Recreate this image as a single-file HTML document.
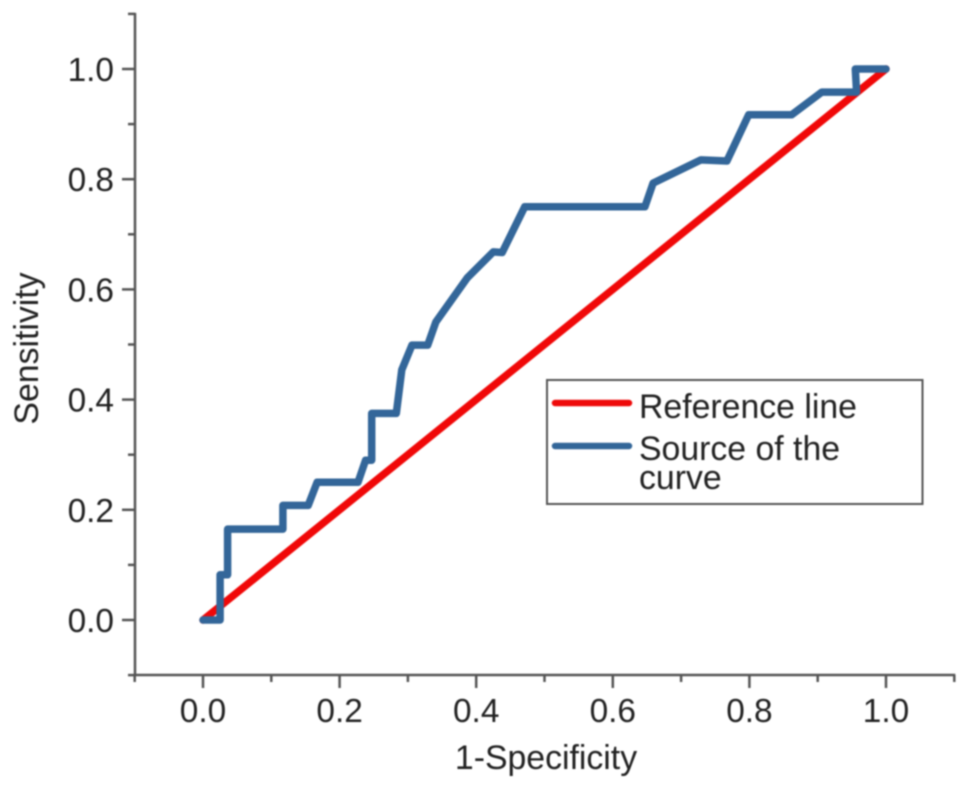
<!DOCTYPE html>
<html lang="en">
<head>
<meta charset="utf-8">
<title>ROC curve</title>
<style>
  html, body { margin: 0; padding: 0; background: #fff; }
  body { width: 969px; height: 788px; overflow: hidden; }
  svg { display: block; filter: blur(0.7px); }
  text { font-family: "Liberation Sans", Arial, sans-serif; font-size: 33.8px; fill: #222; }
  #axes text { font-size: 33.4px; }
</style>
</head>
<body>
<svg id="chart" width="969" height="788" viewBox="0 0 969 788" xmlns="http://www.w3.org/2000/svg">
  <g id="marks"></g>
  <g id="axes"></g>
  <text x="546" y="769" text-anchor="middle">1-Specificity</text>
  <text x="0" y="0" text-anchor="middle" transform="translate(38 348.500) rotate(-90)">Sensitivity</text>
  <g>
    <rect x="547" y="380" width="375.500" height="124" fill="#fff" stroke="#555" stroke-width="2"></rect>
    <line x1="555" y1="403" x2="629" y2="403" stroke="#ee0a0a" stroke-width="6.500" stroke-linecap="round"></line>
    <text x="639" y="418">Reference line</text>
    <line x1="555" y1="446" x2="629" y2="446" stroke="#336699" stroke-width="6.500" stroke-linecap="round"></line>
    <text x="639" y="460">Source of the</text>
    <text x="639" y="489">curve</text>
  </g>
</svg>
<script>
const xTickValues = [-0.1, 0, 0.1, 0.2, 0.3, 0.4, 0.5, 0.6, 0.7, 0.8, 0.9, 1, 1.1];
const yTickValues = [-0.1, 0, 0.1, 0.2, 0.3, 0.4, 0.5, 0.6, 0.7, 0.8, 0.9, 1, 1.1];
const xTickLabels = ["", "0.0", "", "0.2", "", "0.4", "", "0.6", "", "0.8", "", "1.0", ""];
const yTickLabels = ["", "0.0", "", "0.2", "", "0.4", "", "0.6", "", "0.8", "", "1.0", ""];
const referenceX = [0, 1];
const referenceY = [0, 1];
const curveX = [0, 0.025, 0.025, 0.036, 0.036, 0.117, 0.117, 0.154, 0.167, 0.227, 0.238, 0.247, 0.247, 0.283, 0.291, 0.306, 0.329, 0.341, 0.387, 0.425, 0.438, 0.471, 0.647, 0.659, 0.729, 0.767, 0.799, 0.862, 0.906, 0.957, 0.955, 1];
const curveY = [0, 0, 0.082, 0.082, 0.165, 0.165, 0.208, 0.208, 0.25, 0.25, 0.29, 0.29, 0.375, 0.375, 0.454, 0.499, 0.499, 0.541, 0.621, 0.668, 0.667, 0.75, 0.75, 0.793, 0.835, 0.833, 0.917, 0.917, 0.958, 0.958, 1, 1];

const NS = 'http://www.w3.org/2000/svg';
const xScale = function (v) { return 203 + v * 683; };
const yScale = function (v) { return 620 - v * 551; };
const AXIS_X = 135;
const AXIS_Y = 675;
const AXIS_COLOR = '#555';
const marks = document.getElementById('marks');
const axes = document.getElementById('axes');

function make(tag, parent, props) {
  const el = document.createElementNS(NS, tag);
  for (const k in props) el.setAttribute(k, props[k]);
  parent.appendChild(el);
  return el;
}
function pointsFor(xs, ys) {
  return xs.map(function (x, i) { return xScale(x).toFixed(1) + ',' + yScale(ys[i]).toFixed(1); }).join(' ');
}

const refLine = make('polyline', marks, { points: pointsFor(referenceX, referenceY), fill: 'none', stroke: '#f00808', 'stroke-width': 7.5, 'stroke-linejoin': 'round', 'stroke-linecap': 'round' });



const curveLine = make('polyline', marks, { points: pointsFor(curveX, curveY), fill: 'none', stroke: '#336699', 'stroke-width': 7.5, 'stroke-linejoin': 'round', 'stroke-linecap': 'round' });



const xAxisLine = make('line', axes, { x1: xScale(xTickValues[0]) - 1, y1: AXIS_Y, x2: xScale(xTickValues[xTickValues.length - 1]) + 1, y2: AXIS_Y, stroke: AXIS_COLOR, 'stroke-width': 2.5 });



const yAxisLine = make('line', axes, { x1: AXIS_X, y1: yScale(yTickValues[0]) + 1, x2: AXIS_X, y2: yScale(yTickValues[yTickValues.length - 1]) - 1, stroke: AXIS_COLOR, 'stroke-width': 2.5 });



xTickValues.forEach(function (v, i) {
  const major = xTickLabels[i] !== '';
  const x = xScale(v);
  const tick = make('line', axes, { x1: x, y1: AXIS_Y, x2: x, y2: AXIS_Y + (major ? 13 : 7), stroke: AXIS_COLOR, 'stroke-width': 2.5 });
  
  
  if (major) {
    const label = make('text', axes, { x: x, y: 722, 'text-anchor': 'middle' });
    label.textContent = xTickLabels[i];
    
    
  }
});

yTickValues.forEach(function (v, i) {
  const major = yTickLabels[i] !== '';
  const y = yScale(v);
  const tick = make('line', axes, { x1: AXIS_X, y1: y, x2: AXIS_X - (major ? 13 : 7), y2: y, stroke: AXIS_COLOR, 'stroke-width': 2.5 });
  
  
  if (major) {
    const label = make('text', axes, { x: 114, y: y + 12, 'text-anchor': 'end' });
    label.textContent = yTickLabels[i];
    
    
  }
});
</script>
</body>
</html>
